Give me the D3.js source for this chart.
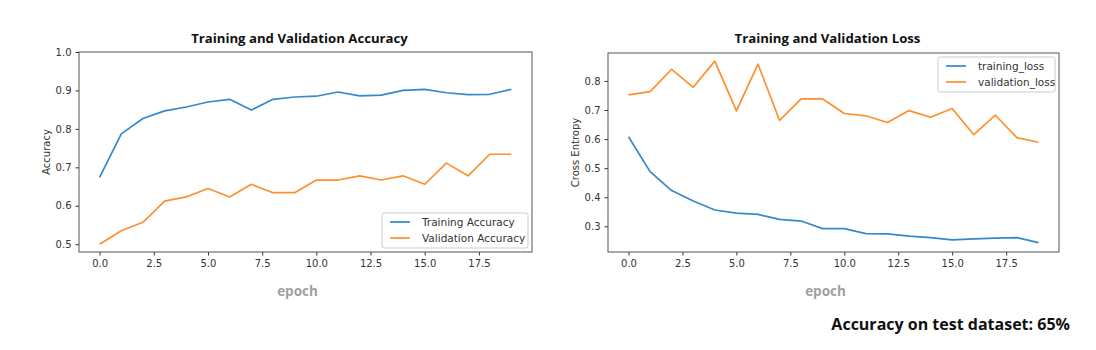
<!DOCTYPE html>
<html>
<head>
<meta charset="utf-8">
<script src="https://cdn.jsdelivr.net/npm/d3@7"></script>
<style>
  body { margin: 0; background: #fff; }
  svg { display: block; }
  .tick text { font-family: "DejaVu Sans", sans-serif; font-size: 10px; fill: #333; }
  .tick line { stroke: #333; }
</style>
</head>
<body>
<svg id="chart" width="1096" height="350"></svg>
<script>
// epochs 0..19
const epochs = d3.range(20);

// accuracy per epoch
const trainAcc = [0.674, 0.787, 0.827, 0.847, 0.857, 0.870, 0.877, 0.849, 0.877, 0.883,
                  0.885, 0.896, 0.886, 0.888, 0.900, 0.903, 0.894, 0.889, 0.890, 0.903];
const valAcc = [0.500, 0.535, 0.557, 0.612, 0.623, 0.645, 0.623, 0.656, 0.634, 0.634,
                0.667, 0.667, 0.678, 0.667, 0.678, 0.656, 0.711, 0.678, 0.734, 0.734];

// loss per epoch
const trainLoss = [0.608, 0.488, 0.423, 0.387, 0.356, 0.345, 0.341, 0.324, 0.318, 0.292,
                   0.292, 0.275, 0.274, 0.266, 0.261, 0.253, 0.257, 0.259, 0.261, 0.244];
const valLoss = [0.752, 0.763, 0.840, 0.778, 0.868, 0.697, 0.858, 0.664, 0.738, 0.738,
                 0.688, 0.680, 0.657, 0.698, 0.675, 0.705, 0.615, 0.682, 0.605, 0.589];

const xTicks = [0, 2.5, 5, 7.5, 10, 12.5, 15, 17.5];
const accTicks = [0.5, 0.6, 0.7, 0.8, 0.9, 1.0];
const lossTicks = [0.3, 0.4, 0.5, 0.6, 0.7, 0.8];

// matplotlib default colours, a touch lighter like the blurry screenshot
const blue = "#3589c9", orange = "#ff8f2e";
const svg = d3.select("#chart");

function drawPanel(opts) {
    const x = d3.scaleLinear().domain([-0.95, 19.95]).range([opts.left, opts.right]);
    const y = d3.scaleLinear().domain(opts.yDomain).range([opts.bottom, opts.top]);
    const g = svg.append("g");

    g.append("g")
        .attr("transform", `translate(0,${opts.bottom})`)
        .call(d3.axisBottom(x).tickValues(xTicks).tickFormat(d3.format(".1f")).tickSize(3.5).tickPadding(4))
        .call(a => a.select(".domain").remove());
    g.append("g")
        .attr("transform", `translate(${opts.left},0)`)
        .call(d3.axisLeft(y).tickValues(opts.yTicks).tickFormat(d3.format(".1f")).tickSize(3.5).tickPadding(4))
        .call(a => a.select(".domain").remove());

    const line = d3.line().x((d, i) => x(epochs[i])).y(d => y(d));
    opts.series.forEach(s => {
        g.append("path")
            .datum(s.values)
            .attr("fill", "none")
            .attr("stroke", s.color)
            .attr("stroke-width", 1.7)
            .attr("stroke-linejoin", "round")
            .attr("d", line);
    });

    // frame
    g.append("rect")
        .attr("x", opts.left).attr("y", opts.top)
        .attr("width", opts.right - opts.left).attr("height", opts.bottom - opts.top)
        .attr("fill", "none").attr("stroke", "#555").attr("stroke-width", 1);

    // title
    g.append("text")
        .attr("x", (opts.left + opts.right) / 2 - 6).attr("y", 43)
        .attr("text-anchor", "middle")
        .attr("font-family", "'Open Sans', sans-serif").attr("font-weight", "bold")
        .attr("font-size", 13.2).attr("fill", "#111")
        .text(opts.title);

    // y label
    g.append("text")
        .attr("transform", `translate(${opts.left - 29},${(opts.top + opts.bottom) / 2}) rotate(-90)`)
        .attr("text-anchor", "middle")
        .attr("font-family", "'DejaVu Sans', sans-serif").attr("font-size", 10).attr("fill", "#333")
        .text(opts.yLabel);

    // x label
    g.append("text")
        .attr("x", (opts.left + opts.right) / 2 - 8).attr("y", 296)
        .attr("text-anchor", "middle")
        .attr("font-family", "'Open Sans', sans-serif").attr("font-weight", "bold")
        .attr("font-size", 13.5).attr("fill", "#a0a0a0")
        .text("epoch");

    // legend
    const lg = g.append("g").attr("transform", `translate(${opts.legend.x},${opts.legend.y})`);
    lg.append("rect")
        .attr("width", opts.legend.w).attr("height", 35).attr("rx", 2)
        .attr("fill", "#fff").attr("stroke", "#ccc");
    opts.series.forEach((s, i) => {
        lg.append("line")
            .attr("x1", 8).attr("x2", 28).attr("y1", 9 + i * 16).attr("y2", 9 + i * 16)
            .attr("stroke", s.color).attr("stroke-width", 1.7);
        lg.append("text")
            .attr("x", 40).attr("y", 13 + i * 16)
            .attr("font-family", "'DejaVu Sans', sans-serif").attr("font-size", 10.5).attr("fill", "#333")
            .text(s.name);
    });
}

drawPanel({
    left: 79, right: 532, top: 52, bottom: 252,
    yDomain: [0.4798, 1.0], yTicks: accTicks,
    title: "Training and Validation Accuracy", yLabel: "Accuracy",
    series: [
        { name: "Training Accuracy", values: trainAcc, color: blue },
        { name: "Validation Accuracy", values: valAcc, color: orange }
    ],
    legend: { x: 382, y: 213, w: 146 }
});

drawPanel({
    left: 608, right: 1059, top: 53, bottom: 252,
    yDomain: [0.2116, 0.896], yTicks: lossTicks,
    title: "Training and Validation Loss", yLabel: "Cross Entropy",
    series: [
        { name: "training_loss", values: trainLoss, color: blue },
        { name: "validation_loss", values: valLoss, color: orange }
    ],
    legend: { x: 938, y: 57, w: 117 }
});

svg.append("text")
    .attr("x", 1070).attr("y", 330)
    .attr("text-anchor", "end")
    .attr("font-family", "'Open Sans', sans-serif").attr("font-weight", "bold")
    .attr("font-size", 16).attr("fill", "#111")
    .text("Accuracy on test dataset: 65%");
</script>
</body>
</html>
